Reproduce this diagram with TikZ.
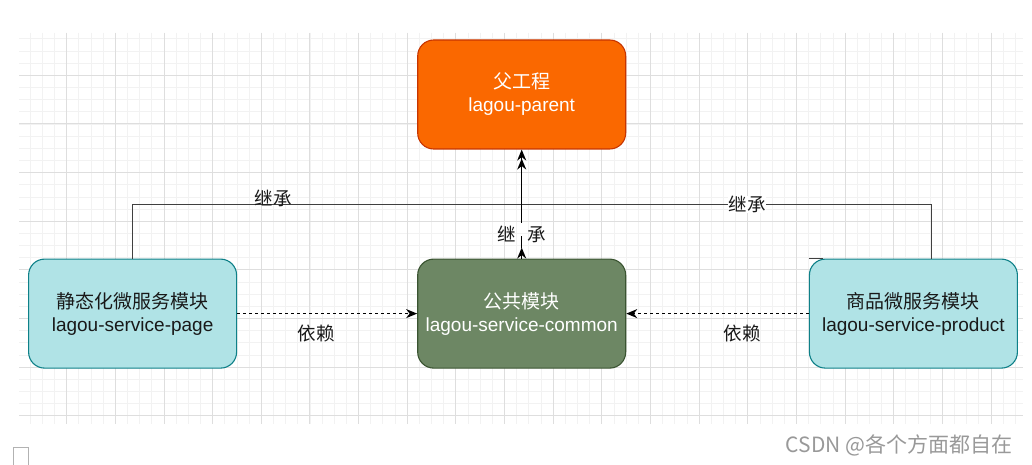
\documentclass[tikz,border=0pt]{standalone}
\usepackage{fontspec}
\setmainfont{Liberation Sans}
\newfontfamily\cjk{Noto Sans CJK SC}
\usepackage{tikz}
\usetikzlibrary{positioning, arrows.meta}

\definecolor{parentfill}{HTML}{FA6800}
\definecolor{parentline}{HTML}{C73500}
\definecolor{commonfill}{HTML}{6D8764}
\definecolor{commonline}{HTML}{3A5431}
\definecolor{servfill}{HTML}{B0E3E6}
\definecolor{servline}{HTML}{0E8088}

\begin{document}
\begin{tikzpicture}[
    x=1pt, y=-1pt,
    module/.style={
        draw,
        rectangle,
        rounded corners=16pt,
        line width=1.1pt,
        minimum height=109pt,
        minimum width=208pt,
        align=center,
        font=\fontsize{19}{23}\selectfont
    },
    lbl/.style={font=\cjk\fontsize{18.5}{20}\selectfont, text=black!90},
    arrow/.style={line width=1.4pt, -{Stealth[length=11pt, width=9pt, inset=3.5pt]}},
    link/.style={line width=1.4pt, draw=black!75},
    dep/.style={line width=1.3pt, dash pattern=on 3pt off 3pt, -{Stealth[length=11pt, width=9pt, inset=3.5pt]}},
    gridminor/.style={draw=black!5, line width=0.8pt},
    gridmajor/.style={draw=black!13, line width=0.9pt}
]

\useasboundingbox (0,0) rectangle (1032,465);
\fill[white] (0,0) rectangle (1032,465);

% Background grid
\begin{scope}
\clip (19,33) rectangle (1023,424);
\foreach \i in {1,...,83} \draw[gridminor] ({18+\i*12.1625},33) -- ++(0,391);
\foreach \j in {0,...,32} \draw[gridminor] (19,{38.8+\j*12.1625}) -- ++(1004,0);
\foreach \i in {1,...,20} \draw[gridmajor] ({18+\i*48.65},33) -- ++(0,391);
\foreach \j in {0,...,7} \draw[gridmajor] (19,{75.3+\j*48.65}) -- ++(1004,0);
\end{scope}

% Modules
\node[module, fill=parentfill, draw=parentline, text=white] (parent) at (521.7,94.5) {{\cjk 父工程}\\lagou-parent};

\node[module, fill=commonfill, draw=commonline, text=white, below=109pt of parent] (common) {{\cjk 公共模块}\\lagou-service-common};

\node[module, fill=servfill, draw=servline, text=black!90, left=180pt of common] (page) {{\cjk 静态化微服务模块}\\lagou-service-page};

\node[module, fill=servfill, draw=servline, text=black!90, right=182.6pt of common] (product) {{\cjk 商品微服务模块}\\lagou-service-product};

% Inheritance
\coordinate (bar) at ([yshift=54pt]common.north);
\coordinate (tip2) at ([yshift=-9pt]parent.south);
\coordinate (midtip) at ([yshift=11pt]common.north);
\coordinate (gapbot) at ([yshift=23pt]common.north);
\coordinate (gaptop) at ([yshift=36pt]common.north);
\coordinate (prodout) at ([xshift=18.3pt]product.north);

\draw[link] (page.north) |- (bar) node[lbl, pos=0.681, yshift=6pt] {继承};
\draw[link] (prodout) |- (bar) node[lbl, pos=0.725, fill=white, inner sep=0.5pt] {继承};
\draw[link] (product.north west) -- ++(14,0);

\draw[arrow] (common.north) -- (midtip);
\draw[line width=1.4pt] (midtip) -- (gapbot);
\draw[arrow] (gaptop) -- (parent.south);
\draw[arrow] (bar) -- (tip2);
\node[lbl] (inh) at ([yshift=24pt]common.north) {继\hspace{12pt}承};

% Dependencies
\draw[dep] (page) -- (common) node[lbl, pos=0.44, yshift=-20pt] {依赖};
\draw[dep] (product) -- (common) node[lbl, pos=0.365, yshift=-20pt] {依赖};

% Page footer
\draw[black!30, line width=1pt] (13.5,470) -- (13.5,447.5) -- (28.5,447.5) -- (28.5,470);
\node[anchor=east, text=black!40, font=\cjk\fontsize{21}{22}\selectfont] (mark) at (1016,445) {CSDN @各个方面都自在};

\end{tikzpicture}
\end{document}
